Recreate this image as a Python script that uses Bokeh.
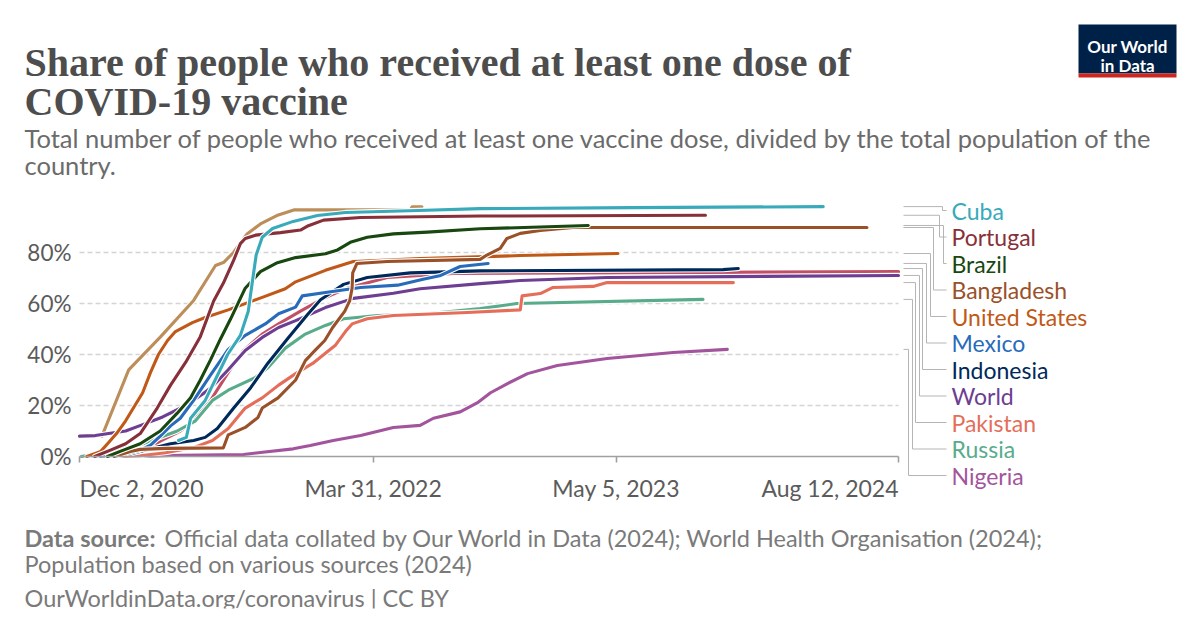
import pandas as pd
from bokeh.plotting import figure
from bokeh.models import Range1d, FixedTicker, Label, ColumnDataSource, CustomJSTickFormatter
from bokeh.core.properties import value
from bokeh.embed import file_html
from bokeh.resources import INLINE

# ---------------- data (share of population with at least one dose, %) ----------------
cuba_dates = ["2021-05-14", "2021-05-27", "2021-06-03", "2021-06-27", "2021-08-03", "2021-08-24",
              "2021-09-06", "2021-09-13", "2021-09-19", "2021-09-29", "2021-10-16", "2021-11-19",
              "2021-12-29", "2022-02-13", "2022-06-13", "2022-09-23", "2023-06-01", "2024-04-10"]
cuba_values = [6.3, 7.5, 15, 22, 40, 47.5, 57, 69, 79, 86, 89.4, 92.2, 94.5, 95.7, 96.5, 97.2, 97.6, 98.0]

portugal_dates = ["2020-12-27", "2021-01-22", "2021-02-16", "2021-03-12", "2021-04-09", "2021-05-01",
                  "2021-05-26", "2021-06-19", "2021-07-11", "2021-07-27", "2021-08-13", "2021-08-24",
                  "2021-09-01", "2021-09-18", "2021-10-29", "2021-12-01", "2021-12-14", "2022-01-08",
                  "2022-03-10", "2022-09-23", "2023-09-29"]
portugal_values = [0, 2.5, 5, 9, 19, 28, 37, 47, 61, 68, 77, 83.5, 85.5, 86.8, 87.8, 88.8, 90.5,
                   92.7, 93.7, 94.3, 94.6]

brazil_dates = ["2021-01-17", "2021-02-07", "2021-03-12", "2021-04-14", "2021-05-12", "2021-06-03",
                "2021-06-19", "2021-07-06", "2021-07-22", "2021-08-08", "2021-09-01", "2021-09-26",
                "2021-10-24", "2021-11-23", "2022-01-11", "2022-01-31", "2022-02-21", "2022-03-21",
                "2022-05-03", "2022-06-28", "2022-09-23", "2023-03-20"]
brazil_values = [0, 2, 5, 10, 17, 23, 30, 38, 46, 54, 66, 72.5, 76, 78, 79.5, 81, 84, 86, 87.3, 88,
                 89.3, 90.6]

bangladesh_dates = ["2021-01-28", "2021-02-24", "2021-03-12", "2021-04-23", "2021-07-27", "2021-08-04",
                    "2021-09-01", "2021-09-22", "2021-09-29", "2021-10-25", "2021-11-23", "2021-12-09",
                    "2021-12-25", "2022-01-10", "2022-01-23", "2022-02-12", "2022-02-20", "2022-02-24",
                    "2022-02-25", "2022-03-04", "2022-04-23", "2022-09-23", "2022-10-04", "2022-10-26",
                    "2022-11-06", "2022-11-28", "2022-12-31", "2023-02-23", "2024-06-21"]
bangladesh_values = [0, 2, 2.8, 3.2, 3.4, 8.5, 11.4, 15.3, 19, 23, 30, 37.6, 41.6, 45.5, 50.6, 57, 61,
                     66, 72, 75.7, 76.5, 77.3, 79, 81.6, 85.5, 87.5, 88.6, 89.8, 89.8]

us_dates = ["2020-12-14", "2021-01-06", "2021-01-19", "2021-02-01", "2021-02-16", "2021-03-16",
            "2021-03-29", "2021-04-11", "2021-04-26", "2021-05-09", "2021-06-06", "2021-06-27",
            "2021-08-04", "2021-09-29", "2021-11-06", "2021-11-23", "2022-01-11", "2022-02-26",
            "2022-06-16", "2022-11-28", "2023-05-08"]
us_values = [0, 2, 5.5, 9, 14, 25, 33, 40, 45.5, 49, 52.5, 54.5, 57.5, 62.4, 65.8, 68.5, 73, 76.5,
             77.6, 78.8, 79.6]

mexico_dates = ["2020-12-24", "2021-02-07", "2021-03-12", "2021-03-29", "2021-04-14", "2021-05-01",
                "2021-05-17", "2021-06-08", "2021-07-06", "2021-08-04", "2021-09-01", "2021-10-04",
                "2021-10-26", "2021-11-23", "2021-12-04", "2022-01-11", "2022-03-10", "2022-05-10",
                "2022-06-21", "2022-07-20", "2022-08-21", "2022-10-06"]
mexico_values = [0, 0.5, 2.5, 4.5, 8, 12, 15, 22, 32, 42, 47.5, 52, 56, 58.6, 63, 64.3, 66.3, 67.2,
                 69.5, 71, 74.5, 75.7]

indonesia_dates = ["2021-01-13", "2021-02-24", "2021-03-29", "2021-05-01", "2021-06-08", "2021-06-27",
                   "2021-07-17", "2021-08-13", "2021-09-10", "2021-10-08", "2021-11-09", "2021-12-12",
                   "2022-01-03", "2022-02-10", "2022-03-21", "2022-05-31", "2022-09-23", "2023-10-28",
                   "2023-11-22"]
indonesia_values = [0, 1, 3, 5, 6.3, 7.5, 11, 19, 27, 36.5, 46, 55.5, 61.5, 67.5, 70.2, 72, 72.8,
                    73.3, 73.7]

world_dates = ["2020-12-02", "2020-12-28", "2021-01-19", "2021-02-16", "2021-03-16", "2021-04-18",
               "2021-05-26", "2021-06-23", "2021-07-09", "2021-08-04", "2021-09-01", "2021-09-29",
               "2021-10-26", "2021-11-23", "2022-01-11", "2022-02-26", "2022-05-03", "2022-06-16",
               "2022-09-23", "2022-11-28", "2023-04-20", "2024-08-12"]
world_values = [8.0, 8.2, 9, 10, 12.5, 15.5, 20, 24.5, 27.5, 34, 41.6, 46.7, 50.6, 53.3, 58.4, 62, 64,
                65.8, 67.8, 69, 70.2, 71]

pakistan_dates = ["2021-02-03", "2021-03-12", "2021-04-23", "2021-06-08", "2021-07-09", "2021-08-04",
                  "2021-09-01", "2021-09-29", "2021-10-26", "2021-11-23", "2021-12-21", "2022-01-11",
                  "2022-01-27", "2022-02-13", "2022-02-24", "2022-03-21", "2022-05-03", "2022-09-02",
                  "2022-11-28", "2022-12-01", "2022-12-31", "2023-01-21", "2023-03-28", "2023-04-20",
                  "2023-11-14"]
pakistan_values = [0, 0.3, 1.5, 3.5, 6.3, 11, 19, 23, 28, 32.5, 36.5, 40.5, 43.5, 49, 52, 54, 55.3,
                   56.5, 57.5, 63, 63.9, 66.3, 66.7, 68.2, 68.2]

russia_dates = ["2020-12-05", "2021-01-22", "2021-03-17", "2021-05-12", "2021-06-11", "2021-07-09",
                "2021-08-04", "2021-09-18", "2021-10-09", "2021-11-06", "2021-12-09", "2022-01-11",
                "2022-02-10", "2022-04-07", "2022-06-28", "2022-09-23", "2022-11-23", "2023-09-25"]
russia_values = [0, 2, 5, 10, 14, 22, 26, 31, 35, 42.5, 48, 51.4, 54, 55.3, 56, 58, 60, 61.6]

nigeria_dates = ["2021-03-05", "2021-05-17", "2021-08-29", "2021-09-26", "2021-11-19", "2021-12-17",
                 "2022-01-24", "2022-03-10", "2022-05-03", "2022-06-16", "2022-07-08", "2022-08-21",
                 "2022-09-18", "2022-10-10", "2022-11-07", "2022-12-10", "2023-01-28", "2023-04-20",
                 "2023-08-07", "2023-11-04"]
nigeria_values = [0, 0.5, 0.8, 1.6, 3, 4.3, 6.3, 8.2, 11.4, 12.2, 15, 17.5, 21, 25, 28.6, 32.5, 35.7,
                  38.4, 40.8, 42]

# two further lines drawn in the chart whose labels were not shown
india_dates = ["2021-01-16", "2021-03-12", "2021-04-14", "2021-05-17", "2021-06-08", "2021-07-06",
               "2021-08-04", "2021-08-29", "2021-09-29", "2021-10-26", "2021-12-01", "2022-01-08",
               "2022-02-16", "2022-04-23", "2022-08-10", "2024-08-12"]
india_values = [0, 1.5, 6, 10, 14, 22, 33, 41.5, 48, 52, 57, 62, 66, 70.2, 71.8, 72.5]

uae_dates = ["2021-01-08", "2021-02-21", "2021-04-14", "2021-06-08", "2021-07-14", "2021-07-28",
             "2021-08-13", "2021-09-04", "2021-09-26", "2021-10-23", "2021-11-20", "2022-05-31",
             "2022-06-03", "2022-06-19"]
uae_values = [8.0, 34.0, 46.8, 61.2, 74.9, 76.2, 80.1, 87.3, 91.2, 94.5, 96.7, 96.7, 97.9, 97.9]

x_tick_dates = ["2020-12-02", "2022-03-31", "2023-05-05", "2024-08-12"]
y_ticks = [0, 20, 40, 60, 80]
grid_values = [20, 40, 60, 80]

# (name, dates, values, colour, labelled)  -- drawing order, bottom first
series = [
    ("India", india_dates, india_values, "#C15065", False),
    ("United Arab Emirates", uae_dates, uae_values, "#BC8E5A", False),
    ("Nigeria", nigeria_dates, nigeria_values, "#A2559C", True),
    ("Russia", russia_dates, russia_values, "#58AC8C", True),
    ("Pakistan", pakistan_dates, pakistan_values, "#E56E5A", True),
    ("World", world_dates, world_values, "#6D3E91", True),
    ("Indonesia", indonesia_dates, indonesia_values, "#00295B", True),
    ("Mexico", mexico_dates, mexico_values, "#286BBB", True),
    ("United States", us_dates, us_values, "#C05917", True),
    ("Bangladesh", bangladesh_dates, bangladesh_values, "#9A5129", True),
    ("Brazil", brazil_dates, brazil_values, "#18470F", True),
    ("Portugal", portugal_dates, portugal_values, "#883039", True),
    ("Cuba", cuba_dates, cuba_values, "#38AABA", True),
]
legend_order = ["Cuba", "Portugal", "Brazil", "Bangladesh", "United States", "Mexico",
                "Indonesia", "World", "Pakistan", "Russia", "Nigeria"]

# ---------------- layout ----------------
W, H = 1200, 628
PAD_B = 20                                 # space kept for the x-axis panel
FL, FR, FT, FB = 79, 898, 201, 456         # data area (canvas pixels)
FONT = "Lato"
GRAY = "#5b5b5b"


def ms(d):
    return pd.Timestamp(d).value / 1e6


x0, x1 = ms(x_tick_dates[0]), ms(x_tick_dates[-1])
kx = (x1 - x0) / (FR - FL)          # ms per pixel
ky = 100.0 / (FB - FT)              # % per pixel


def px_to_x(px):
    return x0 + (px - FL) * kx


def py_to_y(py):
    return (FB - py) * ky


p = figure(width=W, height=H, x_axis_type="datetime", y_axis_location=None,
           x_range=Range1d(px_to_x(0), px_to_x(W)),
           y_range=Range1d(py_to_y(H - PAD_B), py_to_y(0)),
           output_backend="svg", toolbar_location=None, title=None,
           min_border_left=0, min_border_right=0, min_border_top=0, min_border_bottom=PAD_B)
p.outline_line_color = None
p.background_fill_color = "white"
p.border_fill_color = "white"
p.grid.visible = False

# x axis: fixed at 0 %, spanning only the data period
p.xaxis.fixed_location = 0
p.xaxis.bounds = (x0, x1)
p.xaxis.ticker = FixedTicker(ticks=[ms(d) for d in x_tick_dates])
p.xaxis.formatter = CustomJSTickFormatter(code="return '';")
p.xaxis.major_label_text_font_size = "1px"
p.xaxis.major_label_standoff = 0
p.xaxis.axis_line_color = "#a0a0a0"
p.xaxis.axis_line_width = 1.6
p.xaxis.major_tick_line_color = "#a0a0a0"
p.xaxis.major_tick_line_width = 1.6
p.xaxis.major_tick_out = 6
p.xaxis.major_tick_in = 0
p.xaxis.minor_tick_line_color = None

# dashed horizontal grid
p.segment(x0=[x0] * len(grid_values), x1=[x1] * len(grid_values), y0=grid_values, y1=grid_values,
          line_color="#d4d4d4", line_width=1.5, line_dash="5 3")

# y tick labels
p.text(x=[px_to_x(71)] * len(y_ticks), y=y_ticks, text=[f"{t}%" for t in y_ticks],
       text_align="right", text_baseline="middle", text_font=value(FONT),
       text_font_size="22.5px", text_color=GRAY)

# x tick labels (first left-aligned, last right-aligned as in the original)
for i, d in enumerate(x_tick_dates):
    t = pd.Timestamp(d)
    txt = f"{t.strftime('%b')} {t.day}, {t.year}"
    align = "left" if i == 0 else ("right" if i == len(x_tick_dates) - 1 else "center")
    p.add_layout(Label(x=ms(d), y=py_to_y(487), text=txt, text_align=align,
                       text_baseline="alphabetic", text_font=FONT,
                       text_font_size="23px", text_color=GRAY))

# lines
ends = {}
for name, dates, vals, col, lab in series:
    src = ColumnDataSource(dict(x=[ms(d) for d in dates], y=vals))
    p.line("x", "y", source=src, line_color="white", line_width=5.2, line_join="round", line_cap="round")
    p.line("x", "y", source=src, line_color=col, line_width=3.1, line_join="round", line_cap="round")
    if lab:
        ends[name] = (vals[-1], col)

# legend labels with connector lines
label_py = [210, 236.5, 263, 289.5, 316, 342.5, 369, 395.5, 422, 448.5, 475]
bend_px = [942, 939, 943, 933, 930, 926, 922, 919, 915, 912, 908]
cxs, cys = [], []
for name, ly, bx in zip(legend_order, label_py, bend_px):
    v, col = ends[name]
    yl = py_to_y(ly)
    cxs.append([px_to_x(903), px_to_x(bx), px_to_x(bx), px_to_x(946)])
    cys.append([v, v, yl, yl])
    p.add_layout(Label(x=px_to_x(951), y=yl, text=name, text_align="left", text_baseline="middle",
                       text_font=FONT, text_font_size="23px", text_color=col))
p.multi_line(xs=cxs, ys=cys, line_color="#b5b5b5", line_width=1)

# title, subtitle
title_lines = ["Share of people who received at least one dose of", "COVID-19 vaccine"]
for txt, by in zip(title_lines, [62, 101]):
    p.add_layout(Label(x=px_to_x(24), y=py_to_y(by), text=txt,
                       text_font="Liberation Serif", text_font_style="bold", text_font_size="40px",
                       text_color="#4d4d4d", text_baseline="alphabetic"))
subtitle_lines = ["Total number of people who received at least one vaccine dose, divided by the total population of the",
                  "country."]
for txt, by in zip(subtitle_lines, [137, 164]):
    p.add_layout(Label(x=px_to_x(24), y=py_to_y(by), text=txt,
                       text_font=FONT, text_font_size="25.5px", text_color="#6b6b6b",
                       text_baseline="alphabetic"))

# footer
p.add_layout(Label(x=px_to_x(24), y=py_to_y(537), text="Data source:",
                   text_font=FONT, text_font_style="bold", text_font_size="23.5px",
                   text_color="#7a7a7a", text_baseline="alphabetic"))
footer = [("Official data collated by Our World in Data (2024); World Health Organisation (2024);", 164, 537),
          ("Population based on various sources (2024)", 24, 563),
          ("OurWorldinData.org/coronavirus | CC BY", 24, 597)]
for txt, fx, by in footer:
    p.add_layout(Label(x=px_to_x(fx), y=py_to_y(by), text=txt,
                       text_font=FONT, text_font_size="23.5px", text_color="#7a7a7a",
                       text_baseline="alphabetic"))

# logo
p.quad(left=[px_to_x(1078)], right=[px_to_x(1176)], top=[py_to_y(24)], bottom=[py_to_y(73)],
       fill_color="#002147", line_color=None)
p.quad(left=[px_to_x(1078)], right=[px_to_x(1176)], top=[py_to_y(73)], bottom=[py_to_y(77)],
       fill_color="#CE261E", line_color=None)
for txt, by in zip(["Our World", "in Data"], [46, 65]):
    p.add_layout(Label(x=px_to_x(1127), y=py_to_y(by), text=txt, text_align="center",
                       text_font=FONT, text_font_style="bold", text_font_size="17px",
                       text_color="white", text_baseline="alphabetic"))

open("out.html", "w").write(file_html(p, INLINE))
